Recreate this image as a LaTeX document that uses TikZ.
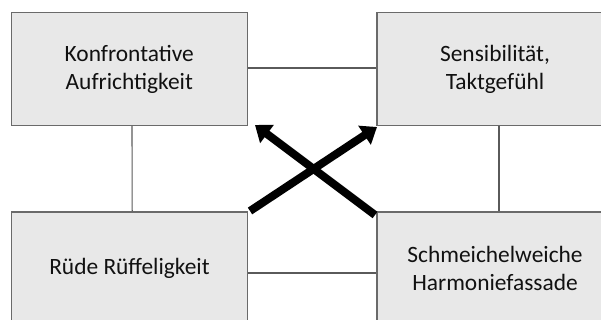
\documentclass[tikz,border=0pt]{standalone}
\usepackage{fontspec}
\setmainfont{Carlito}
\usetikzlibrary{arrows.meta}
\definecolor{boxfill}{HTML}{E8E8E8}
\definecolor{boxline}{HTML}{6A6A6A}
\definecolor{conline}{HTML}{5A5A5A}
\definecolor{txt}{HTML}{111111}
\tikzset{
  box/.style={draw=boxline, line width=1.5pt, fill=boxfill, minimum width=236pt, minimum height=113pt,
    align=center, inner sep=0pt, text=txt, font=\fontsize{23.4pt}{28pt}\selectfont},
  conn/.style={draw=conline, line width=1.1pt},
  bigarrow/.style={line width=8pt, -{Triangle[width=22pt,length=15pt]}, black}
}
\begin{document}
\begin{tikzpicture}[x=1pt,y=1pt]
\useasboundingbox (0,0) rectangle (601,320);
\clip (0,0) rectangle (601,320);
% boxes (positions in y-up coordinates)
\node[box] (TL) at (129.3,251) {Konfrontative\\Aufrichtigkeit};
\node[box] (TR) at (495,251) {Sensibilität,\\Taktgefühl};
\node[box] (BL) at (129.5,51.5) {Rüde Rüffeligkeit};
\node[box] (BR) at (495,51.5) {Schmeichelweiche\\Harmoniefassade};
% connectors
\draw[conn] ([yshift=1pt]TL.east) -- ([yshift=1pt]TR.west);
\draw[conn] ([yshift=-4.5pt]BL.east) -- ([yshift=-4.5pt]BR.west);
\draw[conn] ([xshift=2.7pt]TL.south) -- ([xshift=2.7pt]BL.north);
\draw[conn] ([xshift=4pt]TR.south) -- ([xshift=4pt]BR.north);
% arrows
\coordinate (a1s) at (250,109);
\coordinate (a1e) at (377,193);
\coordinate (a2s) at (375,105);
\coordinate (a2e) at (255,195);
\draw[bigarrow] (a1s) -- (a1e);
\draw[bigarrow] (a2s) -- (a2e);
\end{tikzpicture}
\end{document}
